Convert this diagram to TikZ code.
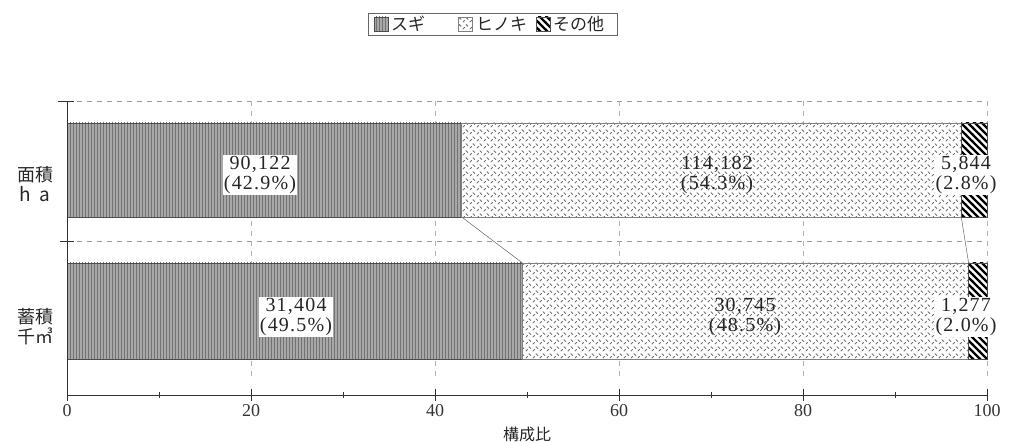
\documentclass[tikz,border=0pt]{standalone}
\usepackage{fontspec}
\setmainfont{Liberation Serif}
\newfontfamily\numf[LetterSpace=6]{Liberation Serif}
\newfontfamily\jp{Noto Sans CJK JP}
\usetikzlibrary{patterns}
\pgfdeclarepatternformonly{sugipat}{\pgfqpoint{-1pt}{-1pt}}{\pgfqpoint{4pt}{4pt}}{\pgfqpoint{3pt}{3pt}}{%
  \pgfsetlinewidth{1pt}%
  \pgfpathmoveto{\pgfqpoint{1.5pt}{-1pt}}\pgfpathlineto{\pgfqpoint{1.5pt}{4pt}}\pgfusepath{stroke}}
\pgfdeclarepatternformonly{hinokipat}{\pgfqpoint{0pt}{0pt}}{\pgfqpoint{7pt}{7pt}}{\pgfqpoint{7pt}{7pt}}{%
  \pgfsetlinewidth{1pt}\pgfsetroundcap
  \pgfpathmoveto{\pgfqpoint{1pt}{1pt}}\pgfpathlineto{\pgfqpoint{3pt}{3pt}}%
  \pgfpathmoveto{\pgfqpoint{4.5pt}{6pt}}\pgfpathlineto{\pgfqpoint{6.5pt}{4pt}}%
  \pgfusepath{stroke}}
\pgfdeclarepatternformonly{otherpat}{\pgfqpoint{-1pt}{-1pt}}{\pgfqpoint{8pt}{8pt}}{\pgfqpoint{7pt}{7pt}}{%
  \pgfsetlinewidth{2.2pt}%
  \pgfpathmoveto{\pgfqpoint{-1pt}{8pt}}\pgfpathlineto{\pgfqpoint{8pt}{-1pt}}\pgfusepath{stroke}}
\definecolor{sugigray}{gray}{0.66}
\begin{document}
\begin{tikzpicture}[x=1pt,y=-1pt,
  sugi/.style={draw=black!70,line width=0.6pt,preaction={fill=sugigray},pattern=sugipat,pattern color=black!55},
  hinoki/.style={draw=black!50,line width=0.6pt,preaction={fill=white},pattern=hinokipat,pattern color=black!55},
  other/.style={draw=black!70,line width=0.6pt,preaction={fill=white},pattern=otherpat,pattern color=black},
  grid/.style={black!40,line width=0.6pt,dash pattern=on 5pt off 5pt},
  num/.style={font=\numf\fontsize{20}{20}\selectfont,align=center,inner sep=1pt,text=black!85},
  numw/.style={num,fill=white},
  tick/.style={font=\fontsize{18}{18}\selectfont,text=black!80},
  jpl/.style={font=\jp\fontsize{18}{24}\selectfont,align=center,text=black!85},
  leg/.style={font=\jp\fontsize{17}{18}\selectfont,text=black!85,anchor=west,inner sep=0pt},
  conn/.style={black!60,line width=0.5pt}]
\useasboundingbox (0,0) rectangle (1009,443);
% legend
\node[draw=black!60,line width=0.6pt,minimum width=249pt,minimum height=22pt,inner sep=0pt] (legend) at (492.5,24) {};
\path[sugi] (374,17) rectangle (388,31);
\node[leg] (lsugi) at (391,24) {スギ};
\path[hinoki] (458,17) rectangle (472,31);
\node[leg] (lhinoki) at (476,24) {ヒノキ};
\path[other] (536,17) rectangle (550,31);
\node[leg] (lother) at (553,24) {その他};
% grid
\draw[grid] (67,101) -- (987,101);
\draw[grid] (67,241) -- (987,241);
\foreach \v in {20,40,60,80,100} \draw[grid,black!30] ({67+9.2*\v},101) -- ({67+9.2*\v},380);
% bars
\path[sugi] (67,123) rectangle ({67+9.2*42.9},217);
\path[hinoki] ({67+9.2*42.9},123) rectangle ({67+9.2*97.2},217);
\path[other] ({67+9.2*97.2},123) rectangle (987,217);
\path[sugi] (67,263) rectangle ({67+9.2*49.5},359);
\path[hinoki] ({67+9.2*49.5},263) rectangle ({67+9.2*98.0},359);
\path[other] ({67+9.2*98.0},263) rectangle (987,359);
% connector end points
\coordinate (a1) at ({67+9.2*42.9},217);
\coordinate (b1) at ({67+9.2*49.5},263);
\coordinate (a2) at ({67+9.2*97.2},217);
\coordinate (b2) at ({67+9.2*98.0},263);
\draw[conn] (a1) -- (b1);
\draw[conn] (a2) -- (b2);
% axes
\draw[black!80,line width=0.9pt] (67,101) -- (67,395) -- (987,395);
\draw[black!80,line width=0.9pt] (58,101) -- (74,101);
\draw[black!80,line width=0.9pt] (60,241) -- (74,241);
\foreach \v in {0,20,40,60,80,100} {
  \draw[black!80,line width=0.8pt] ({67+9.2*\v},389) -- ({67+9.2*\v},401);
  \node[tick] (t\v) at ({67+9.2*\v},411) {\v};
}
\foreach \v in {10,30,50,70,90} \draw[black!80,line width=0.6pt] ({67+9.2*\v},392) -- ({67+9.2*\v},398);
\node[jpl,font=\jp\fontsize{16}{18}\selectfont] (xlabel) at (527,434) {構成比};
% category labels
\node[jpl] (cat1) at (35,184) {面積\\[-4pt]{\fontsize{19}{18}\selectfont h\ \ a}};
\node[jpl] (cat2) at (35,327) {蓄積\\[-4pt]千㎥};
% values
\node[numw] (v1) at (260,175) {90,122\\(42.9\%)};
\node[num] (v2) at (717,175) {114,182\\(54.3\%)};
\node[numw] (v3) at (966,175) {5,844\\(2.8\%)};
\node[numw] (v4) at (296,317) {31,404\\(49.5\%)};
\node[num] (v5) at (745,317) {30,745\\(48.5\%)};
\node[numw] (v6) at (966,317) {1,277\\(2.0\%)};
\end{tikzpicture}
\end{document}
